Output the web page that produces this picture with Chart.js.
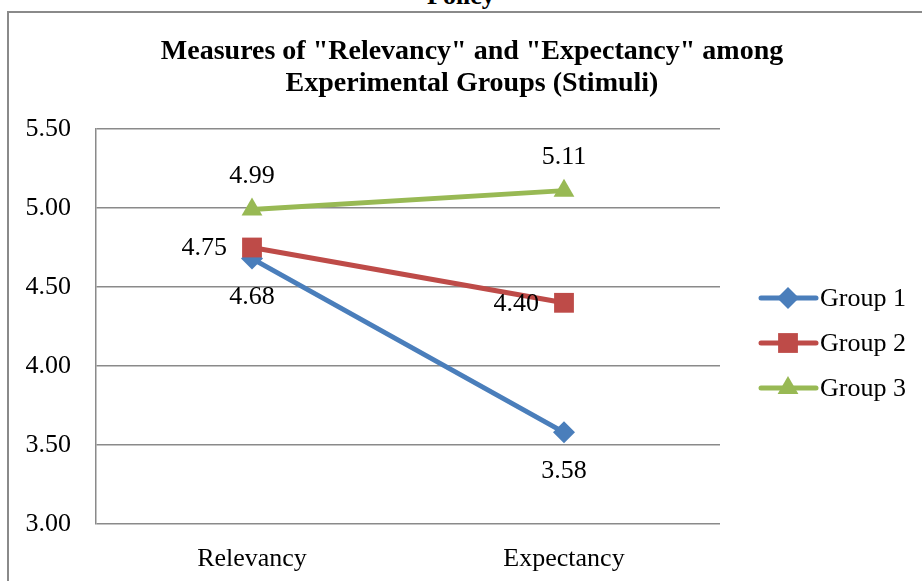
<!DOCTYPE html>
<html>
<head>
<meta charset="utf-8">
<script src="https://cdn.jsdelivr.net/npm/chart.js@4/dist/chart.umd.min.js"></script>
<style>
  body { margin: 0; background: #fff; overflow: hidden; }
  #wrap { position: absolute; left: 0; top: 0; width: 944px; height: 581px; }
  #frame { position: absolute; left: 7px; top: 11px; width: 1000px; height: 700px;
           border-left: 2px solid #8a8a8a; border-top: 2px solid #8a8a8a; }
  #doc { position: absolute; left: 427px; top: -19px; line-height: 30px;
         font: bold 26px "Liberation Serif", serif; color: #000; }
</style>
</head>
<body>
<div id="doc">Policy</div>
<div id="frame"></div>
<div id="wrap"><canvas id="myChart" width="944" height="581"></canvas></div>
<script>
'use strict';

// data
let categories = ['Relevancy', 'Expectancy'];
let groupNames = ['Group 1', 'Group 2', 'Group 3'];
let group1 = [4.68, 3.58];
let group2 = [4.75, 4.40];
let group3 = [4.99, 5.11];
let yTicks = [3.00, 3.50, 4.00, 4.50, 5.00, 5.50];

let serif = '"Liberation Serif", "Times New Roman", serif';

// value labels next to each point
let valueLabels = {
  id: 'valueLabels',
  afterDatasetsDraw(chart) {
    let ctx = chart.ctx;
    ctx.save();
    ctx.font = '26px ' + serif;
    ctx.fillStyle = '#000';
    chart.data.datasets.forEach(function (ds, i) {
      let meta = chart.getDatasetMeta(i);
      meta.data.forEach(function (pt, j) {
        let txt = ds.data[j].toFixed(2);
        ctx.textBaseline = 'middle';
        if (ds.labelPos === 'left') {
          ctx.textAlign = 'right';
          ctx.fillText(txt, pt.x - 25, pt.y + 1);
        } else if (ds.labelPos === 'above') {
          ctx.textAlign = 'center';
          ctx.fillText(txt, pt.x, pt.y - 33);
        } else {
          ctx.textAlign = 'center';
          ctx.fillText(txt, pt.x, pt.y + 39);
        }
      });
    });
    ctx.restore();
  }
};

// legend: line with marker, then name
let lineLegend = {
  id: 'lineLegend',
  afterDraw(chart) {
    let ctx = chart.ctx;
    let area = chart.chartArea;
    let x0 = area.right + 41;
    let y0 = 298;
    ctx.save();
    chart.data.datasets.forEach(function (ds, i) {
      let y = y0 + i * 45;
      ctx.strokeStyle = ds.borderColor;
      ctx.lineWidth = 5;
      ctx.lineCap = 'round';
      ctx.beginPath();
      ctx.moveTo(x0, y);
      ctx.lineTo(x0 + 55, y);
      ctx.stroke();
      ctx.fillStyle = ds.borderColor;
      Chart.helpers.drawPoint(ctx, {
        pointStyle: ds.pointStyle,
        radius: ds.pointRadius,
        borderWidth: 0,
        rotation: 0
      }, x0 + 27, y);
      ctx.fillStyle = '#000';
      ctx.font = '26px ' + serif;
      ctx.textAlign = 'left';
      ctx.textBaseline = 'middle';
      ctx.fillText(ds.label, x0 + 59, y + 1);
    });
    ctx.restore();
  }
};

let ctx = document.getElementById('myChart').getContext('2d');
let myChart = new Chart(ctx, {
  type: 'line',
  data: {
    labels: categories,
    datasets: [{
      label: groupNames[0],
      data: group1,
      borderColor: '#4a7ebb',
      backgroundColor: '#4a7ebb',
      pointStyle: 'rectRot',
      pointRadius: 11,
      labelPos: 'below',
      order: 2
    }, {
      label: groupNames[1],
      data: group2,
      borderColor: '#be4b48',
      backgroundColor: '#be4b48',
      pointStyle: 'rect',
      pointRadius: 14,
      labelPos: 'left',
      order: 1
    }, {
      label: groupNames[2],
      data: group3,
      borderColor: '#98b954',
      backgroundColor: '#98b954',
      pointStyle: 'triangle',
      pointRadius: 12,
      labelPos: 'above',
      order: 0
    }]
  },
  options: {
    responsive: false,
    animation: false,
    layout: { padding: { top: 36, bottom: 0, left: 0, right: 0 } },
    elements: {
      line: { borderWidth: 5, tension: 0, borderCapStyle: 'round' },
      point: { borderWidth: 0, hoverRadius: 12 }
    },
    plugins: {
      legend: { display: false },
      tooltip: { enabled: false },
      title: {
        display: true,
        text: ['Measures of "Relevancy" and "Expectancy" among', 'Experimental Groups (Stimuli)'],
        color: '#000',
        font: { family: serif, size: 28, weight: 'bold', lineHeight: 1.143 },
        padding: { top: 0, bottom: 29 }
      }
    },
    scales: {
      x: {
        offset: true,
        grid: { display: false, offset: true },
        border: { display: false },
        ticks: { color: '#000', font: { family: serif, size: 26 }, padding: 12 },
        afterFit(scale) { scale.height = 57; }
      },
      y: {
        min: 3,
        max: 5.5,
        grid: { color: '#8a8a8a', lineWidth: 1.5, drawTicks: false },
        border: { display: true, color: '#8a8a8a', width: 1.5 },
        afterBuildTicks(scale) { scale.ticks = yTicks.map(v => ({ value: v })); },
        ticks: {
          color: '#000',
          font: { family: serif, size: 26 },
          padding: 25,
          callback: v => v.toFixed(2)
        },
        afterFit(scale) { scale.width = 96; }
      },
      side: {
        position: 'right',
        display: true,
        grid: { display: false },
        border: { display: false },
        ticks: { display: false },
        afterFit(scale) { scale.width = 224; }
      }
    }
  },
  plugins: [valueLabels, lineLegend]
});
</script>
</body>
</html>
